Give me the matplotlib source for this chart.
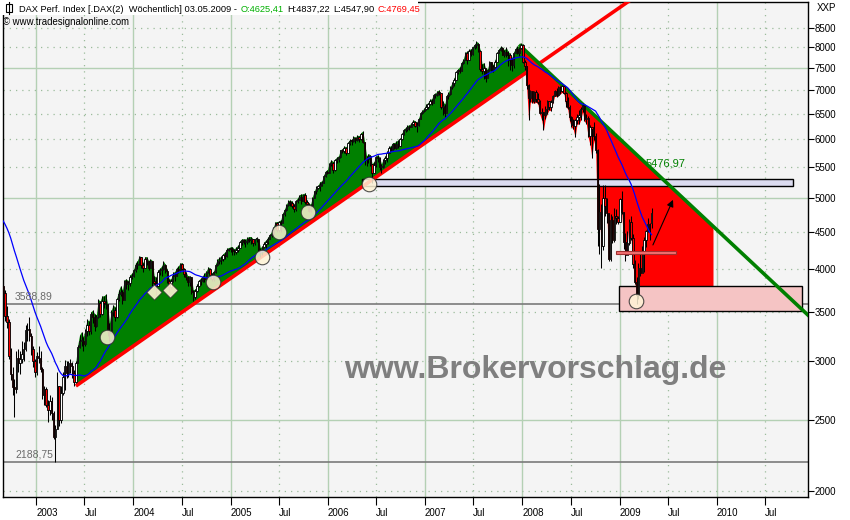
import numpy as np
import pandas as pd
import matplotlib
matplotlib.use("Agg")
import matplotlib.pyplot as plt
import matplotlib.dates as mdates
from matplotlib.patches import Rectangle
from matplotlib.ticker import NullLocator, NullFormatter

# ---------------- data (weekly, Friday week end) ----------------
week_end = pd.date_range("2002-08-30", "2009-05-01", freq="W-FRI")
first_open = 3800
last_open = 4625.41

close = [
    # 2002
    3712, 3460, 3390, 3050, 2880, 2770, 2750, 3030, 2980, 3020, 3070, 3120, 3310, 3320, 3250, 3120, 3000, 2900,
    # 2003
    3050, 3030, 2930, 2700, 2750, 2620, 2580, 2650, 2550, 2370, 2430, 2780, 2500,
    2720, 2860, 2960, 2890, 2980, 2960, 2890, 2810, 2980, 3140, 3200, 3200, 3170,
    3300, 3360, 3300, 3480, 3440, 3350, 3440, 3600, 3480, 3620, 3600, 3590, 3300,
    3280, 3500, 3520, 3450, 3650, 3700, 3730, 3630, 3850, 3820, 3830, 3900, 3920,
    # 2004
    3990, 4050, 4070, 4150, 4050, 4020, 4130, 4100, 4020, 4110, 3860, 3830, 3800,
    3970, 3990, 4000, 4050, 3980, 3850, 3780, 3850, 3920, 3920, 4000, 3990, 4060,
    4000, 3940, 3900, 3840, 3900, 3720, 3670, 3740, 3800, 3850, 3860, 3900, 3880,
    3960, 4000, 3930, 3880, 3960, 4050, 4100, 4120, 4130, 4180, 4170, 4250, 4260, 4256,
    # 2005
    4230, 4220, 4250, 4280, 4350, 4380, 4350, 4350, 4400, 4380, 4400, 4340,
    4390, 4390, 4230, 4250, 4290, 4330, 4350, 4400, 4450, 4470, 4540, 4620, 4520,
    4630, 4620, 4750, 4810, 4890, 4930, 4920, 4880, 4830, 4950, 4970, 5020, 4950, 5040,
    4930, 4900, 4800, 4880, 5000, 5100, 5150, 5190, 5200, 5240, 5350, 5420, 5408,
    # 2006
    5560, 5580, 5460, 5620, 5640, 5680, 5800, 5780, 5850, 5760, 5930, 5980, 5970,
    6030, 5990, 6050, 6000, 6110, 5950, 5620, 5650, 5700, 5550, 5400, 5540, 5680,
    5660, 5500, 5500, 5630, 5660, 5750, 5850, 5810, 5920, 5850, 5920, 5870, 6010,
    6100, 6180, 6200, 6240, 6230, 6300, 6340, 6260, 6270, 6400, 6520, 6560, 6597,
    # 2007
    6650, 6700, 6760, 6730, 6900, 6900, 6960, 6930, 6640, 6650, 6510, 6870, 6920,
    7060, 7160, 7220, 7400, 7460, 7440, 7620, 7700, 7850, 7680, 7920, 7840, 8000,
    8060, 8090, 7920, 7480, 7440, 7500, 7270, 7450, 7640, 7450, 7530, 7650, 7860,
    7930, 7990, 7820, 7880, 7800, 7810, 7700, 7560, 7870, 7950, 7850, 7990, 8067,
    # 2008
    7650, 7540, 7110, 6820, 6970, 6770, 6950, 6800, 6750, 6510, 6530, 6470, 6590,
    6760, 6640, 6750, 6870, 6980, 6890, 7060, 6990, 7100, 6940, 6770, 6650, 6430,
    6270, 6260, 6370, 6430, 6470, 6600, 6690, 6390, 6420, 6070, 6230, 6190, 6060,
    5800, 4540, 4780, 4300, 4990, 4870, 4770, 4130, 4670, 4380, 4730, 4700, 4630,
    # 2009
    4980, 4780, 4350, 4180, 4340, 4640, 4410, 4060, 3840, 3690, 4020, 3950, 4190,
    4380, 4510, 4600, 4520, 4769.45,
]

high = [
    # 2002
    3900, 3750, 3560, 3420, 3130, 2950, 2840, 3100, 3120, 3100, 3200, 3190, 3360, 3380, 3440, 3280, 3150, 3020,
    # 2003
    3090, 3150, 3100, 2950, 2780, 2770, 2660, 2700, 2680, 2570, 2460, 2900, 2780,
    2780, 2900, 3010, 3000, 3000, 3020, 2990, 2920, 3000, 3160, 3260, 3290, 3240,
    3320, 3420, 3400, 3500, 3520, 3480, 3470, 3640, 3620, 3680, 3680, 3700, 3590,
    3380, 3520, 3580, 3550, 3660, 3750, 3800, 3750, 3870, 3880, 3860, 3930, 3950,
    # 2004
    4000, 4080, 4110, 4170, 4160, 4080, 4160, 4160, 4110, 4130, 4110, 3920, 3900,
    3990, 4010, 4040, 4100, 4060, 4000, 3880, 3880, 3960, 3970, 4020, 4040, 4080,
    4080, 4010, 3970, 3920, 3920, 3900, 3750, 3760, 3820, 3870, 3890, 3920, 3950,
    3980, 4030, 4010, 3950, 3980, 4070, 4130, 4150, 4170, 4200, 4220, 4270, 4280, 4290,
    # 2005
    4290, 4260, 4290, 4310, 4370, 4400, 4400, 4390, 4420, 4430, 4430, 4400,
    4400, 4420, 4400, 4280, 4300, 4360, 4380, 4420, 4460, 4500, 4560, 4640, 4640,
    4650, 4670, 4770, 4830, 4900, 4960, 4960, 4950, 4900, 4960, 5000, 5050, 5060, 5060,
    5080, 4960, 4920, 4900, 5020, 5110, 5180, 5200, 5260, 5270, 5370, 5440, 5460,
    # 2006
    5580, 5630, 5600, 5640, 5680, 5700, 5810, 5830, 5880, 5860, 5950, 6000, 6000,
    6060, 6040, 6080, 6070, 6130, 6160, 5950, 5700, 5740, 5720, 5560, 5600, 5700,
    5720, 5680, 5560, 5650, 5700, 5780, 5870, 5880, 5940, 5940, 5970, 5990, 6020,
    6120, 6200, 6230, 6270, 6280, 6320, 6380, 6360, 6330, 6420, 6530, 6580, 6620,
    # 2007
    6700, 6730, 6800, 6810, 6920, 6930, 6990, 7000, 6900, 6760, 6700, 6900, 6950,
    7080, 7180, 7270, 7420, 7480, 7530, 7640, 7720, 7880, 7900, 7950, 7960, 8010,
    8080, 8150, 8120, 7940, 7600, 7630, 7480, 7480, 7660, 7650, 7580, 7700, 7880,
    7960, 8030, 8000, 7940, 8000, 7900, 7850, 7750, 7890, 7980, 8030, 8010, 8100,
    # 2008
    8080, 7700, 7550, 7140, 7000, 6980, 6990, 7000, 6930, 6780, 6620, 6530, 6660,
    6780, 6770, 6780, 6900, 7000, 7050, 7100, 7080, 7110, 7110, 6950, 6850, 6680,
    6450, 6400, 6400, 6500, 6580, 6640, 6730, 6620, 6490, 6460, 6280, 6220, 6330,
    6120, 5820, 5220, 4900, 5200, 5200, 5000, 4760, 4750, 4730, 4840, 4830, 4720,
    # 2009
    4990, 5110, 4790, 4480, 4510, 4680, 4720, 4470, 4120, 3900, 4080, 4220, 4300,
    4420, 4520, 4690, 4620, 4837.22,
]

low = [
    # 2002
    3650, 3400, 3330, 3020, 2830, 2700, 2519, 2720, 2900, 2880, 2980, 3000, 3100, 3200, 3200, 3060, 2950, 2860,
    # 2003
    2870, 2980, 2900, 2670, 2620, 2600, 2480, 2540, 2500, 2350, 2188.75, 2430, 2450,
    2470, 2700, 2740, 2850, 2860, 2890, 2850, 2780, 2800, 2980, 3130, 3150, 3100,
    3150, 3250, 3260, 3270, 3380, 3300, 3340, 3430, 3440, 3470, 3540, 3530, 3250,
    3200, 3300, 3460, 3400, 3430, 3620, 3680, 3590, 3640, 3760, 3750, 3800, 3880,
    # 2004
    3900, 3960, 4000, 4050, 4020, 3960, 4030, 4050, 3990, 4010, 3800, 3760, 3690,
    3790, 3930, 3920, 3990, 3950, 3830, 3720, 3760, 3840, 3860, 3920, 3950, 3970,
    3990, 3900, 3870, 3790, 3790, 3700, 3618, 3650, 3720, 3780, 3810, 3840, 3840,
    3860, 3950, 3880, 3850, 3860, 3950, 4040, 4070, 4070, 4100, 4130, 4150, 4230, 4220,
    # 2005
    4180, 4180, 4200, 4220, 4270, 4320, 4330, 4290, 4330, 4350, 4330, 4300,
    4310, 4350, 4210, 4157, 4180, 4270, 4280, 4330, 4390, 4430, 4470, 4540, 4500,
    4500, 4500, 4630, 4730, 4800, 4870, 4870, 4840, 4790, 4800, 4920, 4960, 4910, 4950,
    4910, 4860, 4784, 4790, 4880, 4990, 5060, 5140, 5110, 5180, 5230, 5340, 5380,
    # 2006
    5400, 5520, 5410, 5440, 5580, 5600, 5670, 5750, 5760, 5720, 5760, 5900, 5900,
    5950, 5940, 5970, 5960, 5990, 5940, 5540, 5520, 5580, 5520, 5243, 5400, 5500,
    5600, 5460, 5400, 5480, 5560, 5600, 5750, 5790, 5800, 5820, 5830, 5840, 5880,
    5990, 6080, 6150, 6170, 6180, 6230, 6280, 6230, 6150, 6260, 6400, 6490, 6540,
    # 2007
    6580, 6600, 6680, 6690, 6760, 6820, 6880, 6900, 6600, 6480, 6440, 6560, 6810,
    6900, 7030, 7080, 7230, 7360, 7380, 7430, 7600, 7700, 7600, 7700, 7780, 7800,
    7950, 7980, 7880, 7440, 7370, 7250, 7170, 7300, 7430, 7420, 7400, 7500, 7700,
    7850, 7900, 7800, 7760, 7770, 7550, 7450, 7420, 7500, 7850, 7830, 7790, 7970,
    # 2008
    7630, 7450, 7030, 6380, 6750, 6730, 6720, 6740, 6700, 6490, 6380, 6180, 6400,
    6500, 6580, 6560, 6720, 6870, 6860, 6880, 6920, 6950, 6920, 6650, 6600, 6350,
    6240, 6190, 6040, 6300, 6290, 6380, 6540, 6350, 6300, 6040, 5900, 5660, 5990,
    5760, 4300, 4200, 4014, 4250, 4730, 4620, 4100, 4100, 4340, 4360, 4600, 4600,
    # 2009
    4640, 4750, 4260, 4110, 4200, 4320, 4380, 4020, 3820, 3588.89, 3650, 3920, 3960,
    3970, 4290, 4500, 4380, 4547.90,
]

# closes of the 30 weeks before the first bar (only for the moving average)
pre_close = [5000, 4950, 5050, 4950, 5100, 5350, 5330, 5300, 5400, 5250, 5200, 5250, 5000,
             5000, 4900, 5100, 4950, 4800, 4700, 4500, 4400, 4380, 4450, 4150, 3850, 3700,
             3550, 3650, 3800, 3780]
ma_weeks = 30

# trend lines (date, value anchors)
up_dates, up_vals = ["2003-05-30", "2007-12-24"], [2777, 7296]
up_end = "2009-08-01"
down_dates, down_vals = ["2007-12-20", "2009-05-01"], [8070, 5476.97]
down_end = "2010-12-31"
down_label = "5476,97"
red_fill_to_low_until = "2008-10-01"

# marked lows (circles / diamonds)
circle_dates = ["2003-09-25", "2004-10-28", "2005-04-29", "2005-07-02", "2005-10-18", "2006-06-05", "2009-03-03"]
circle_vals = [3233, 3841, 4162, 4492, 4788, 5222, 3617]
diamond_dates = ["2004-03-19", "2004-05-19"]
diamond_vals = [3728, 3748]

# drawn zones
blue_zone = ("2006-05-08", "2010-10-15", 5185, 5297)
pink_zone = ("2008-12-29", "2010-11-17", 3506, 3793)
small_bar = ("2008-12-20", "2009-07-31", 4192, 4230)
red_zone_start, red_zone_end, red_zone_floor = "2009-03-06", "2009-12-18", 3800
arrow_from, arrow_to = ("2009-05-02", 4281), ("2009-07-25", 5008)

hlines = [3588.89, 2188.75]
hline_labels = ["3588,89", "2188,75"]

y_ticks = [2000, 2500, 3000, 3500, 4000, 4500, 5000, 5500, 6000, 6500, 7000, 7500, 8000, 8500]
y_solid = [2500, 5000, 7500]
x_tick_dates = ["2003-01-01", "2003-07-01", "2004-01-01", "2004-07-01", "2005-01-01", "2005-07-01",
                "2006-01-01", "2006-07-01", "2007-01-01", "2007-07-01", "2008-01-01", "2008-07-01",
                "2009-01-01", "2009-07-01", "2010-01-01", "2010-07-01"]
x_tick_labels = ["2003", "Jul", "2004", "Jul", "2005", "Jul", "2006", "Jul", "2007", "Jul",
                 "2008", "Jul", "2009", "Jul", "2010", "Jul"]

header_pieces = [("DAX Perf. Index [.DAX(2)  W\u00f6chentlich] 03.05.2009 -", "black"),
                 ("O:4625,41", "#00b000"), ("H:4837,22", "black"), ("L:4547,90", "black"),
                 ("C:4769,45", "#ff0000")]

# ---------------- helpers ----------------
def dn(d):
    return mdates.date2num(pd.Timestamp(d).to_pydatetime())

def tline(dates, vals, xs):
    x0, x1 = dn(dates[0]), dn(dates[1])
    l0, l1 = np.log(vals[0]), np.log(vals[1])
    return np.exp(l0 + (l1 - l0) * (np.asarray(xs) - x0) / (x1 - x0))

n = len(week_end)
for nm, arr in (("close", close), ("high", high), ("low", low)):
    if len(arr) != n:
        raise SystemExit(f"{nm} has {len(arr)} values, expected {n}")

xd = mdates.date2num(week_end.to_pydatetime())
close = np.array(close, float)
high = np.array(high, float)
low = np.array(low, float)
opn = np.concatenate([[first_open], close[:-1]])
opn[-1] = last_open
full = np.concatenate([np.array(pre_close, float), close])
ma = pd.Series(full).rolling(ma_weeks).mean().to_numpy()[len(pre_close):]

FONT = ["Liberation Sans", "DejaVu Sans"]
plt.rcParams["font.family"] = FONT

fig = plt.figure(figsize=(8.5, 5.2), dpi=100)
fig.patch.set_facecolor("white")
ax = fig.add_axes([3 / 850, 23 / 520, 805 / 850, 495 / 520])
ax.set_facecolor("#f4f4f4")
ax.set_yscale("log")
ax.set_ylim(1963, 9219)
ax.set_xlim(dn("2002-08-29"), dn("2010-12-10"))

# grid
grid_col = "#b4d0b4"
for d, lab in zip(x_tick_dates, x_tick_labels):
    if lab == "Jul":
        ax.axvline(dn(d), color="#9cbc9c", lw=0.9, ls=(0, (1, 4)), zorder=0.5)
    else:
        ax.axvline(dn(d), color=grid_col, lw=1.0, zorder=0.5)
for v in y_ticks:
    if v in y_solid:
        ax.axhline(v, color=grid_col, lw=1.0, zorder=0.5)
    else:
        ax.axhline(v, color="#9cbc9c", lw=0.9, ls=(0, (1, 4)), zorder=0.5)
for v, lab in zip(hlines, hline_labels):
    ax.axhline(v, color="#7a7a7a", lw=1.2, zorder=0.6)
    ax.text(12 / 805, v * 1.008, lab, transform=ax.get_yaxis_transform(), fontsize=7.5,
            color="#6a6a6a", va="bottom", ha="left", zorder=7)

# green fill (price above uptrend line)
up_at = tline(up_dates, up_vals, xd)
sel = xd >= dn(up_dates[0])
ax.fill_between(xd[sel], up_at[sel], high[sel], where=high[sel] > up_at[sel],
                color="#008000", lw=0, zorder=1.5, interpolate=True)

# red fill (price below downtrend line)
dn_at = tline(down_dates, down_vals, xd)
sel2 = xd >= dn(down_dates[0])
fill_floor = np.where(xd < dn(red_fill_to_low_until), low, close)
ax.fill_between(xd[sel2], dn_at[sel2], fill_floor[sel2], where=dn_at[sel2] > fill_floor[sel2],
                color="#ff0000", lw=0, zorder=1.5, interpolate=True)
zx = np.array([dn(red_zone_start), dn(red_zone_end)])
ax.fill_between(zx, tline(down_dates, down_vals, zx), [red_zone_floor] * 2,
                color="#ff0000", lw=0, zorder=1.5)

# zones
def zone(z, fc, ec, lw, zo):
    x0, x1 = dn(z[0]), dn(z[1])
    ax.add_patch(Rectangle((x0, z[2]), x1 - x0, z[3] - z[2], facecolor=fc, edgecolor=ec, lw=lw, zorder=zo))

zone(blue_zone, "#dcdcf0", "black", 1.0, 2.5)
zone(pink_zone, "#f5c4c4", "black", 1.0, 2.5)

# trend lines
ux = np.array([dn(up_dates[0]), dn(up_end)])
ax.plot(ux, tline(up_dates, up_vals, ux), color="#ff0000", lw=2.6, zorder=3, solid_capstyle="butt")
dx = np.array([dn(down_dates[0]), dn(down_end)])
ax.plot(dx, tline(down_dates, down_vals, dx), color="#008000", lw=2.6, zorder=3, solid_capstyle="butt")

# candles
ax.vlines(xd, low, high, color="black", lw=0.75, zorder=3.9)
body_lo = np.minimum(opn, close)
body_h = np.maximum(np.abs(close - opn), body_lo * 0.003)
cols = np.where(close >= opn, "white", "#ff0000")
ax.bar(xd, body_h, bottom=body_lo, width=5.0, color=cols, edgecolor="black", lw=0.62, zorder=4)

# moving average
ax.plot(xd, ma, color="#0000ff", lw=0.9, zorder=5)

# small bar + markers + arrow
zone(small_bar, "#f27070", "#a03030", 0.8, 5.5)
cx = [dn(d) for d in circle_dates]
ax.scatter(cx, circle_vals, s=110, marker="o", facecolor="#fff4d6", edgecolor="#303030",
           lw=0.8, alpha=0.85, zorder=6)
dxs = [dn(d) for d in diamond_dates]
ax.scatter(dxs, diamond_vals, s=60, marker="D", facecolor="#fff4d6", edgecolor="#303030",
           lw=0.6, alpha=0.9, zorder=6)
ax.annotate("", xy=(dn(arrow_to[0]), arrow_to[1]), xytext=(dn(arrow_from[0]), arrow_from[1]),
            arrowprops=dict(arrowstyle="-|>", color="black", lw=0.8, mutation_scale=10), zorder=6)

ax.text(dn("2009-04-08"), 5574, down_label, color="#008000", fontsize=8, va="center", ha="left", zorder=7)

# watermark
ax.text(0.661, 0.257, "www.Brokervorschlag.de", transform=ax.transAxes, fontsize=23,
        fontweight="bold", color="#7f7f7f", ha="center", va="center", zorder=8)

# axes / ticks
ax.yaxis.tick_right()
ax.set_yticks(y_ticks)
ax.set_yticklabels([str(v) for v in y_ticks], fontsize=7)
ax.yaxis.set_minor_locator(NullLocator())
ax.yaxis.set_minor_formatter(NullFormatter())
ax.tick_params(axis="y", length=4, width=0.8, pad=1, colors="black")
ax.set_xticks([dn(d) for d in x_tick_dates])
ax.set_xticklabels(x_tick_labels, fontsize=7, ha="left")
ax.tick_params(axis="x", length=6, width=0.8, pad=2)
for s in ax.spines.values():
    s.set_color("black")
    s.set_linewidth(1.0)

# header box & text
fig.patches.append(Rectangle((1 / 850, 1 - 15 / 520), 417 / 850, 14 / 520, transform=fig.transFigure,
                             facecolor="white", edgecolor="none", zorder=10))
renderer = fig.canvas.get_renderer()
fig.add_artist(Rectangle((6 / 850, 1 - 12 / 520), 6 / 850, 8 / 520, transform=fig.transFigure,
                         facecolor="white", edgecolor="black", lw=0.8, zorder=11))
fig.add_artist(matplotlib.lines.Line2D([9 / 850, 9 / 850], [1 - 14 / 520, 1 - 2 / 520],
                                       transform=fig.transFigure, color="black", lw=0.8, zorder=11))
xpos = 19
for s, c in header_pieces:
    t = fig.text(xpos / 850, 1 - 12 / 520, s, fontsize=6.7, color=c, zorder=11)
    xpos += t.get_window_extent(renderer).width + 3.5
fig.text(3 / 850, 1 - 25 / 520, "\u00a9 www.tradesignalonline.com", fontsize=6.9, color="black")
fig.text(817 / 850, 1 - 11 / 520, "XXP", fontsize=7, color="black")

fig.savefig("out.png", dpi=100)
